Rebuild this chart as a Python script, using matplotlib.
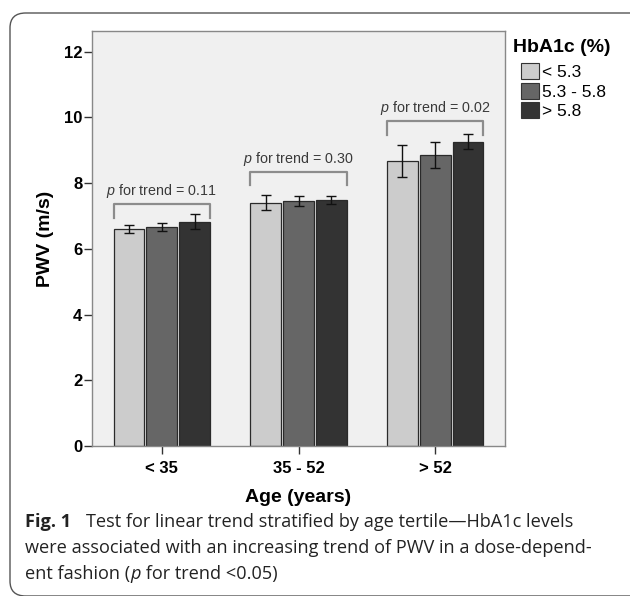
import matplotlib
matplotlib.use('Agg')
import matplotlib.pyplot as plt
import numpy as np
from matplotlib.patches import FancyBboxPatch, Patch

plt.rcParams['font.family'] = ['Liberation Sans', 'DejaVu Sans']
plt.rcParams['mathtext.fontset'] = 'custom'
plt.rcParams['mathtext.rm'] = 'Liberation Sans'
plt.rcParams['mathtext.it'] = 'Liberation Sans:italic'

age_groups = ['< 35', '35 - 52', '> 52']
hba1c_groups = ['< 5.3', '5.3 - 5.8', '> 5.8']
pwv_means = [[6.61, 7.41, 8.67],
             [6.67, 7.45, 8.86],
             [6.82, 7.48, 9.26]]
pwv_err = [[0.13, 0.23, 0.48],
           [0.13, 0.15, 0.40],
           [0.23, 0.13, 0.23]]
p_trend = ['0.11', '0.30', '0.02']
bracket_top = [7.38, 8.34, 9.90]
bracket_end = [6.93, 7.95, 9.46]

cols = ['#cccccc', '#666666', '#333333']

W, H = 630, 596
fig = plt.figure(figsize=(W / 100, H / 100), dpi=100)

# rounded frame around figure + caption (right side runs off the image)
frame = FancyBboxPatch((10 / W, 1 - 596 / H), 640 / W, 583 / H,
                       boxstyle='round,pad=0,rounding_size=0.025',
                       transform=fig.transFigure, facecolor='none', edgecolor='#555555', linewidth=1.0)
fig.patches.append(frame)

ax = fig.add_axes([92 / W, 1 - 446 / H, 413 / W, 415 / H])
ax.set_facecolor('#f0f0f0')

x = np.arange(len(age_groups))
width = 0.225
offsets = [-0.24, 0, 0.24]
for i in range(3):
    ax.bar(x + offsets[i], pwv_means[i], width, color=cols[i], edgecolor='#2a2a2a', linewidth=0.9,
           yerr=pwv_err[i], error_kw=dict(ecolor='#111111', elinewidth=1.0, capsize=3.6, capthick=1.0),
           zorder=2)

for g in range(3):
    x0 = x[g] + offsets[0] - width / 2
    x1 = x[g] + offsets[2] + width / 2
    ax.plot([x0, x0, x1, x1], [bracket_end[g], bracket_top[g], bracket_top[g], bracket_end[g]],
            color='#8c8c8c', linewidth=1.6, zorder=3)
    ax.text(x[g], bracket_top[g] + 0.38, '$p$ for trend = ' + p_trend[g], ha='center', va='center',
            fontsize=10.3, color='#3a3a3a')

ax.set_xlim(-0.51, 2.51)
ax.set_ylim(0, 12.63)
ax.set_yticks([0, 2, 4, 6, 8, 10, 12])
ax.set_xticks(x)
ax.set_xticklabels(age_groups)
for lab in ax.get_xticklabels() + ax.get_yticklabels():
    lab.set_fontweight('bold')
    lab.set_fontsize(12)
ax.tick_params(direction='out', length=6, width=1, color='#333333')
ax.tick_params(axis='x', pad=5)
ax.tick_params(axis='y', pad=1)
for s in ax.spines.values():
    s.set_color('#888888')
    s.set_linewidth(1.0)
ax.set_ylabel('PWV (m/s)', fontsize=14, fontweight='bold', labelpad=7)
ax.set_xlabel('Age (years)', fontsize=14, fontweight='bold', labelpad=9)

# legend
fig.text(513 / W, 1 - 47 / H, 'HbA1c (%)', fontsize=14, fontweight='bold', ha='left', va='center')
handles = [Patch(facecolor=c, edgecolor='#333333', linewidth=0.8) for c in cols]
fig.legend(handles, hba1c_groups, loc='upper left', bbox_to_anchor=(521 / W, 1 - 63 / H),
           frameon=False, fontsize=12.5, handlelength=1.05, handleheight=1.05, handletextpad=0.15,
           labelspacing=0.15, borderaxespad=0, borderpad=0)

# caption
cap_font = ['Open Sans', 'DejaVu Sans']
cap_kw = dict(fontsize=13.1, family=cap_font, color='#222222')
fig.text(25 / W, 1 - 527 / H, 'Fig. 1', fontweight='bold', va='baseline', **cap_kw)
fig.text(86 / W, 1 - 527 / H, 'Test for linear trend stratified by age tertile\u2014HbA1c levels',
         va='baseline', **cap_kw)
fig.text(25 / W, 1 - 553 / H, 'were associated with an increasing trend of PWV in a dose-depend-',
         va='baseline', **cap_kw)
t3 = fig.text(25 / W, 1 - 579 / H, 'ent fashion (', va='baseline', **cap_kw)
t4 = ax.annotate('p', xy=(1, 0), xycoords=t3, style='italic', va='bottom', ha='left',
                 annotation_clip=False, **cap_kw)
ax.annotate(' for trend <0.05)', xy=(1, 0), xycoords=t4, va='bottom', ha='left',
            annotation_clip=False, **cap_kw)

fig.savefig('out.png', dpi=100)
